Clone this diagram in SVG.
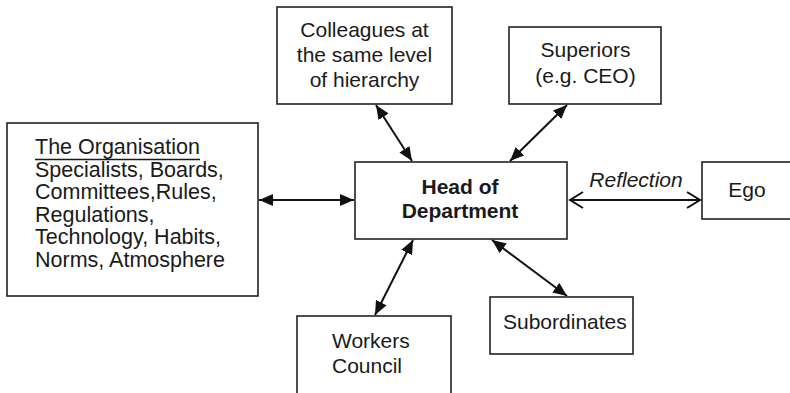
<svg xmlns="http://www.w3.org/2000/svg" width="790" height="393" viewBox="0 0 790 393">
  <style>
    .box { fill: #fff; stroke: #222; stroke-width: 1.6; }
    .lbl { font-family: "Liberation Sans", Arial, sans-serif; font-size: 21px; fill: #1a1a1a; }
    .org { font-size: 21.5px; }
    .mid { text-anchor: middle; }
    .bold { font-weight: bold; }
    .ital { font-style: italic; }
    .link { stroke: #111; stroke-width: 2; fill: none; }
  </style>
  <defs>
    <marker id="solidHead" markerUnits="userSpaceOnUse" markerWidth="14" markerHeight="12" refX="14" refY="6" orient="auto-start-reverse">
      <path d="M0,0 L14,6 L0,12 z" fill="#111"/>
    </marker>
    <marker id="openHead" markerUnits="userSpaceOnUse" markerWidth="17" markerHeight="20" refX="15" refY="10" orient="auto-start-reverse">
      <path d="M2,2 L15,10 L2,18" fill="none" stroke="#111" stroke-width="2"/>
    </marker>
  </defs>

  <rect width="790" height="393" fill="#fff"/>

  <g id="connectors">
    <line class="link" x1="259" y1="200" x2="354" y2="200" marker-start="url(#solidHead)" marker-end="url(#solidHead)"/>
    <line class="link" x1="376" y1="105" x2="412" y2="161" marker-start="url(#solidHead)" marker-end="url(#solidHead)"/>
    <line class="link" x1="567" y1="105" x2="510" y2="161" marker-start="url(#solidHead)" marker-end="url(#solidHead)"/>
    <line class="link" x1="413" y1="240" x2="375" y2="315" marker-start="url(#solidHead)" marker-end="url(#solidHead)"/>
    <line class="link" x1="492" y1="240" x2="567" y2="296" marker-start="url(#solidHead)" marker-end="url(#solidHead)"/>
    <line class="link" x1="570" y1="200" x2="700" y2="200" marker-start="url(#openHead)" marker-end="url(#openHead)"/>
    <text class="lbl ital mid" x="636" y="187">Reflection</text>
  </g>

  <g id="organisation">
    <rect class="box" x="7" y="123" width="251" height="173"/>
    <text class="lbl org" x="35" y="154">The Organisation</text>
    <line x1="35" y1="159.5" x2="200" y2="159.5" stroke="#1a1a1a" stroke-width="1.3"/>
    <text class="lbl org" x="35" y="176.5">Specialists, Boards,</text>
    <text class="lbl org" x="35" y="199">Committees,Rules,</text>
    <text class="lbl org" x="35" y="221.5">Regulations,</text>
    <text class="lbl org" x="35" y="244">Technology, Habits,</text>
    <text class="lbl org" x="35" y="266.5">Norms, Atmosphere</text>
  </g>

  <g id="colleagues">
    <rect class="box" x="277" y="7" width="175" height="97"/>
    <text class="lbl mid" x="364.5" y="37">Colleagues at</text>
    <text class="lbl mid" x="364.5" y="62">the same level</text>
    <text class="lbl mid" x="364.5" y="87">of hierarchy</text>
  </g>

  <g id="superiors">
    <rect class="box" x="509" y="27" width="152" height="77"/>
    <text class="lbl mid" x="585.5" y="57">Superiors</text>
    <text class="lbl mid" x="585.5" y="83">(e.g. CEO)</text>
  </g>

  <g id="head">
    <rect class="box" x="355" y="162" width="212" height="77"/>
    <text class="lbl bold mid" x="460" y="194">Head of</text>
    <text class="lbl bold mid" x="460" y="218">Department</text>
  </g>

  <g id="ego">
    <rect class="box" x="702" y="162" width="90" height="57"/>
    <text class="lbl mid" x="747" y="197">Ego</text>
  </g>

  <g id="workers">
    <rect class="box" x="297" y="316" width="154" height="80"/>
    <text class="lbl" x="332" y="348">Workers</text>
    <text class="lbl" x="332" y="373">Council</text>
  </g>

  <g id="subordinates">
    <rect class="box" x="490" y="297" width="143" height="57"/>
    <text class="lbl" x="503" y="329">Subordinates</text>
  </g>
</svg>
